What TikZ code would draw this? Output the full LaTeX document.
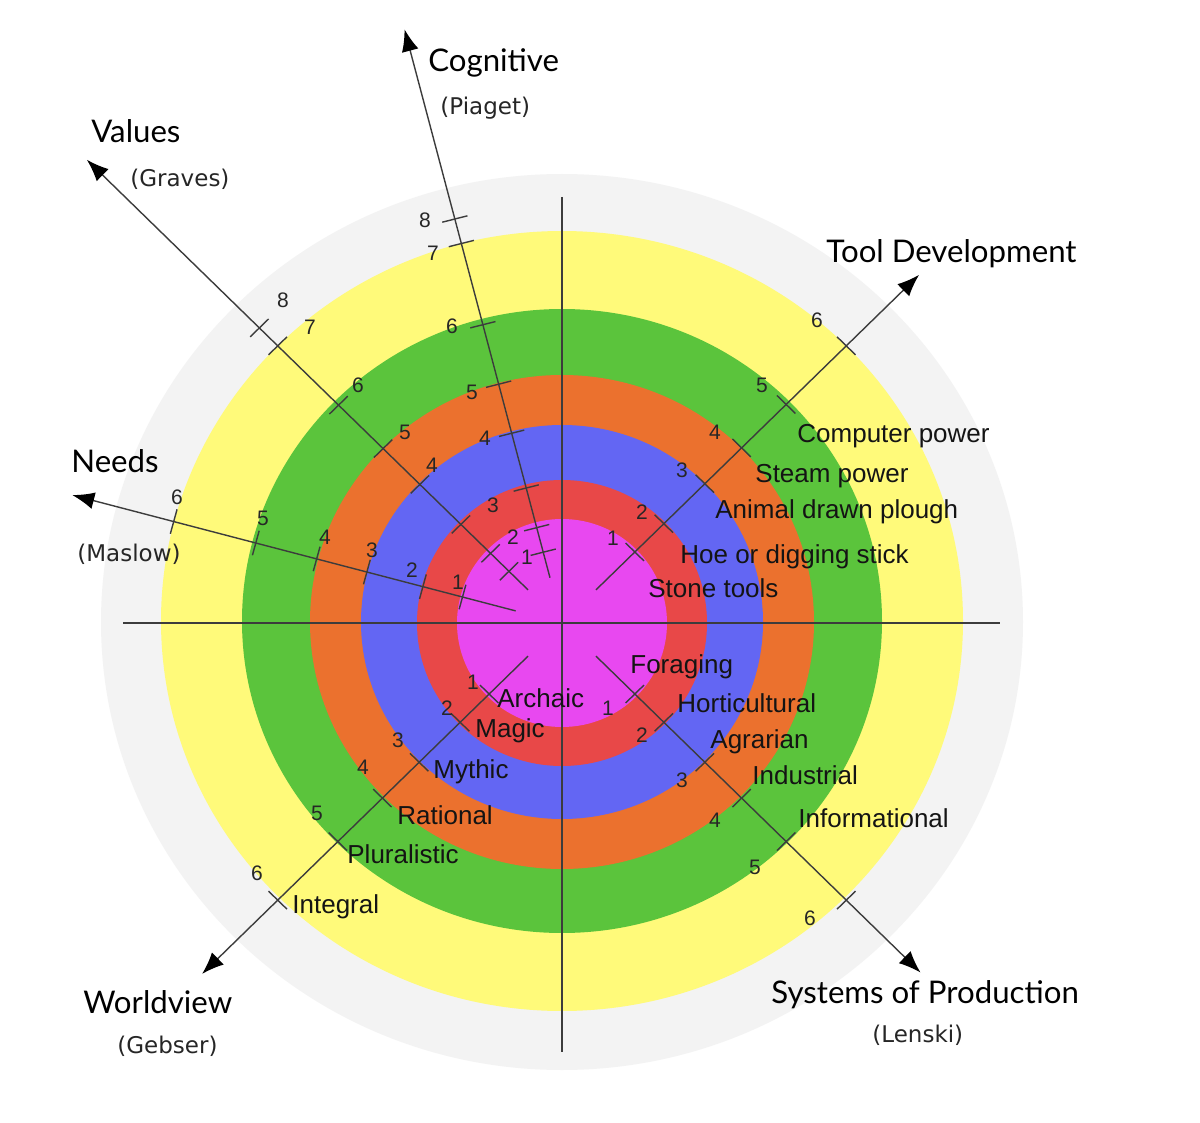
\documentclass[tikz,border=0pt]{standalone}
\usepackage{fontspec}
\setmainfont{Liberation Sans}
\newfontfamily\ttlfont{Lato}
\newfontfamily\subfont{DejaVu Sans}
\usetikzlibrary{arrows.meta,calc}
\definecolor{ringgray}{HTML}{F3F3F3}
\definecolor{ringyellow}{HTML}{FFFA7A}
\definecolor{ringgreen}{HTML}{5BC43C}
\definecolor{ringorange}{HTML}{EB712E}
\definecolor{ringblue}{HTML}{6366F3}
\definecolor{ringred}{HTML}{E84848}
\definecolor{ringmag}{HTML}{E848F0}
\definecolor{axisgray}{HTML}{3C3C3C}
\tikzset{
  axisline/.style={draw=axisgray, line width=0.7pt},
  axisarrow/.style={axisline, -{Latex[length=11pt,width=8.5pt,color=black]}},
  tickline/.style={draw=axisgray, line width=0.7pt},
  ticknum/.style={font=\fontsize{10.5}{12}\selectfont, text=black!85, inner sep=0pt},
  stage/.style={font=\fontsize{13}{15}\selectfont, text=black!92, anchor=base west, inner sep=0pt},
  ttl/.style={font=\ttlfont\fontsize{15.6}{18}\selectfont, text=black, anchor=base west, inner sep=0pt},
  subttl/.style={font=\subfont\fontsize{11.5}{14}\selectfont, text=black!85, anchor=base west, inner sep=0pt},
}
\begin{document}
\begin{tikzpicture}[x=0.5pt,y=-0.5pt]
\useasboundingbox (0,0) rectangle (1200,1123);
\fill[white] (0,0) rectangle (1200,1123);
% rings
\fill[ringgray]   (562,622) ellipse [x radius=461, y radius=448];
\fill[ringyellow] (562,621) ellipse [x radius=401, y radius=390];
\fill[ringgreen]  (562,621) ellipse [x radius=320, y radius=312];
\fill[ringorange] (562,622) ellipse [x radius=252, y radius=247];
\fill[ringblue]   (562,622) ellipse [x radius=201, y radius=197];
\fill[ringred]    (562,623) ellipse [x radius=145, y radius=143];
\fill[ringmag]    (562,623) ellipse [x radius=105, y radius=104];
% cross lines
\coordinate (hL) at (123,623);
\coordinate (hR) at (1000,623);
\coordinate (vT) at (562,197);
\coordinate (vB) at (562,1052);
\draw[axisline] (hL) -- (hR);
\draw[axisline] (vT) -- (vB);
% axes
\begin{scope}[shift={(562,623)}, yscale=-0.975]
  \foreach \n/\a/\L in {tool/45/505, sys/-45/507, world/225/509, val/135/672, need/165/507, cog/104.5/629}{
    \coordinate (\n0) at (\a:48);
    \coordinate (\n1) at (\a:\L);
    \draw[axisarrow] (\n0) -- (\n1);
  }
  \foreach \a in {45,-45,225,165}{
    \foreach \r in {103,144,202,254,317,402}{
      \draw[tickline] ($(\a:\r)+({\a+90}:13)$) -- ($(\a:\r)+({\a-90}:13)$);
    }
  }
  \foreach \a in {135,104.5}{
    \foreach \r in {75,101,143,201,253,316,402,428}{
      \draw[tickline] ($(\a:\r)+({\a+90}:13)$) -- ($(\a:\r)+({\a-90}:13)$);
    }
  }
\end{scope}
% tick numbers: Tool Development
\node[ticknum] (t1) at (613,538) {1};
\node[ticknum] (t2) at (642,512) {2};
\node[ticknum] (t3) at (682,470) {3};
\node[ticknum] (t4) at (715,432) {4};
\node[ticknum] (t5) at (762,385) {5};
\node[ticknum] (t6) at (817,320) {6};
% Systems of Production
\node[ticknum] (s1) at (608,708) {1};
\node[ticknum] (s2) at (642,735) {2};
\node[ticknum] (s3) at (682,780) {3};
\node[ticknum] (s4) at (715,820) {4};
\node[ticknum] (s5) at (755,867) {5};
\node[ticknum] (s6) at (810,918) {6};
% Worldview
\node[ticknum] (w1) at (473,682) {1};
\node[ticknum] (w2) at (447,708) {2};
\node[ticknum] (w3) at (398,740) {3};
\node[ticknum] (w4) at (363,767) {4};
\node[ticknum] (w5) at (317,813) {5};
\node[ticknum] (w6) at (257,873) {6};
% Values
\node[ticknum] (v8) at (283,300) {8};
\node[ticknum] (v7) at (310,327) {7};
\node[ticknum] (v6) at (358,385) {6};
\node[ticknum] (v5) at (405,432) {5};
\node[ticknum] (v4) at (432,465) {4};
% Cognitive
\node[ticknum] (c1) at (527,557) {1};
\node[ticknum] (c2) at (513,537) {2};
\node[ticknum] (c3) at (493,505) {3};
\node[ticknum] (c4) at (485,438) {4};
\node[ticknum] (c5) at (472,392) {5};
\node[ticknum] (c6) at (452,326) {6};
\node[ticknum] (c7) at (433,253) {7};
\node[ticknum] (c8) at (425,220) {8};
% Needs
\node[ticknum] (n6) at (177,497) {6};
\node[ticknum] (n5) at (263,518) {5};
\node[ticknum] (n4) at (325,537) {4};
\node[ticknum] (n3) at (372,550) {3};
\node[ticknum] (n2) at (412,570) {2};
\node[ticknum] (n1) at (458,582) {1};
% stage labels
\node[stage] (lcomp) at (797,443) {Computer power};
\node[stage] (lsteam) at (755,482) {Steam power};
\node[stage] (lplough) at (715,518) {Animal drawn plough};
\node[stage] (lhoe) at (680,563) {Hoe or digging stick};
\node[stage] (lstone) at (648,597) {Stone tools};
\node[stage] (lfor) at (630,673) {Foraging};
\node[stage] (lhort) at (677,712) {Horticultural};
\node[stage] (lagr) at (710,748) {Agrarian};
\node[stage] (lind) at (752,784) {Industrial};
\node[stage] (linf) at (798,827) {Informational};
\node[stage] (larch) at (497,707) {Archaic};
\node[stage] (lmag) at (475,737) {Magic};
\node[stage] (lmyth) at (433,778) {Mythic};
\node[stage] (lrat) at (397,824) {Rational};
\node[stage] (lplur) at (347,863) {Pluralistic};
\node[stage] (lint) at (292,913) {Integral};
% titles
\node[ttl] (Tcog) at (428,72) {Cognitive};
\node[subttl] (Scog) at (440,115) {(Piaget)};
\node[ttl] (Tval) at (91,143) {Values};
\node[subttl] (Sval) at (130,187) {(Graves)};
\node[ttl] (Tneed) at (71,473) {Needs};
\node[subttl] (Sneed) at (77,561) {(Maslow)};
\node[ttl] (Ttool) at (826,263) {Tool Development};
\node[ttl] (Tworld) at (83,1013) {Worldview};
\node[subttl] (Sworld) at (117,1053) {(Gebser)};
\node[ttl] (Tsys) at (771,1003) {Systems of Production};
\node[subttl] (Ssys) at (872,1042) {(Lenski)};
\end{tikzpicture}
\end{document}
